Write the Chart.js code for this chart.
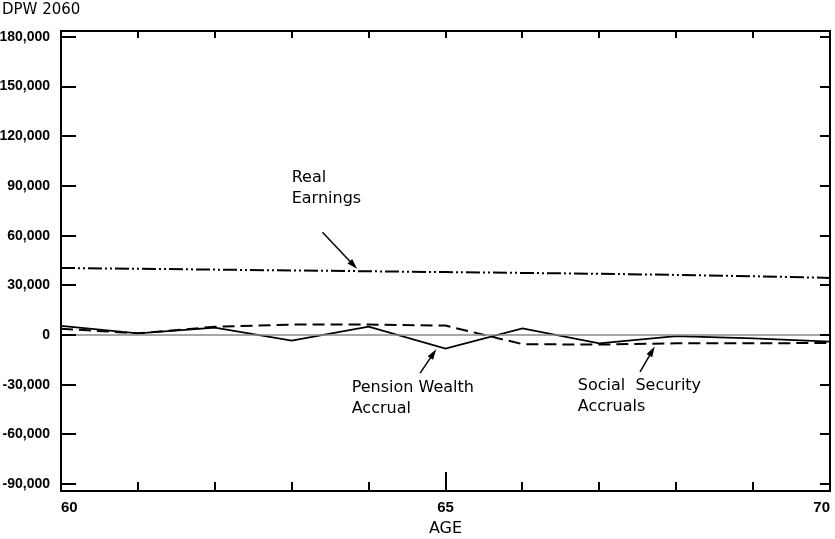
<!DOCTYPE html>
<html lang="en">
<head>
  <meta charset="UTF-8" />
  <title>DPW 2060</title>
  <script src="https://cdn.jsdelivr.net/npm/chart.js"></script>
  <style>
    html, body { margin: 0; padding: 0; background: #fff; }
    #wrap { position: relative; width: 835px; height: 539px; }
  </style>
</head>
<body>
  <div id="wrap"><canvas id="chart"></canvas></div>

  <script>
    // ages on the x axis
    const ages = [60, 61, 62, 63, 64, 65, 66, 67, 68, 69, 70];
    // series (dollars)
    const realEarnings = [40500, 40000, 39500, 39000, 38500, 38000, 37500, 37000, 36300, 35500, 34500];
    const pensionAccrual = [5500, 1000, 4500, -3400, 5000, -8200, 4000, -5000, -700, -2000, -4000];
    const ssAccruals = [3800, 1000, 5000, 6300, 6300, 5700, -5500, -5800, -5000, -5000, -4800];
    const zeroLine = [0, 0, 0, 0, 0, 0, 0, 0, 0, 0, 0];
    const yTicks = [-90000, -60000, -30000, 0, 30000, 60000, 90000, 120000, 150000, 180000];
    const xLabels = [60, 65, 70];

    const TICKFONT = "'Liberation Sans', Arial, sans-serif";
    const TEXTFONT = "'DejaVu Sans', 'Liberation Sans', sans-serif";

    const pts = arr => arr.map((v, i) => ({ x: ages[i], y: v }));

    // labels + arrows, positioned in data units
    const notes = [
      { lines: ['Real', 'Earnings'], at: [63.0, 95000], from: [63.4, 62000], to: [63.85, 40000] },
      { lines: ['Pension Wealth', 'Accrual'], at: [63.78, -32000], from: [64.67, -23000], to: [64.88, -8600] },
      { lines: ['Social  Security', 'Accruals'], at: [66.72, -30800], from: [67.53, -22300], to: [67.72, -7000] }
    ];

    const framePlugin = {
      id: 'frame',
      afterDatasetsDraw(chart) {
        const { ctx, chartArea: a, scales: { x, y } } = chart;
        ctx.save();
        ctx.strokeStyle = '#000';
        ctx.lineWidth = 2;
        ctx.strokeRect(a.left, a.top, a.right - a.left, a.bottom - a.top);

        ctx.beginPath();
        yTicks.forEach(v => {
          const py = Math.round(y.getPixelForValue(v));
          ctx.moveTo(a.left, py); ctx.lineTo(a.left + 15, py);
          ctx.moveTo(a.right, py); ctx.lineTo(a.right - 10, py);
        });
        ages.forEach(v => {
          const px = Math.round(x.getPixelForValue(v));
          const up = v === 65 ? 19 : 9;
          ctx.moveTo(px, a.bottom); ctx.lineTo(px, a.bottom - up);
          ctx.moveTo(px, a.top); ctx.lineTo(px, a.top + 7);
        });
        ctx.stroke();

        // annotations
        ctx.fillStyle = '#000';
        ctx.font = '16px ' + TEXTFONT;
        ctx.textAlign = 'left';
        ctx.textBaseline = 'middle';
        notes.forEach(n => {
          const tx = x.getPixelForValue(n.at[0]);
          const ty = y.getPixelForValue(n.at[1]);
          n.lines.forEach((t, i) => ctx.fillText(t, tx, ty + i * 21));

          const x0 = x.getPixelForValue(n.from[0]), y0 = y.getPixelForValue(n.from[1]);
          const x1 = x.getPixelForValue(n.to[0]), y1 = y.getPixelForValue(n.to[1]);
          const ang = Math.atan2(y1 - y0, x1 - x0);
          ctx.lineWidth = 1.5;
          ctx.beginPath();
          ctx.moveTo(x0, y0);
          ctx.lineTo(x1 - 8 * Math.cos(ang), y1 - 8 * Math.sin(ang));
          ctx.stroke();
          ctx.beginPath();
          ctx.moveTo(x1, y1);
          ctx.lineTo(x1 - 11 * Math.cos(ang - 0.3), y1 - 11 * Math.sin(ang - 0.3));
          ctx.lineTo(x1 - 11 * Math.cos(ang + 0.3), y1 - 11 * Math.sin(ang + 0.3));
          ctx.closePath();
          ctx.fill();
        });

        // figure caption top-left
        ctx.font = '15px ' + TEXTFONT;
        ctx.fillText('DPW 2060', 2, 10);
        ctx.restore();
      }
    };

    new Chart(document.getElementById('chart'), {
      type: 'line',
      data: {
        datasets: [
          { label: 'zero', data: pts(zeroLine), borderColor: '#8a8a8a', borderWidth: 1.5 },
          { label: 'Real Earnings', data: pts(realEarnings), borderColor: '#000', borderWidth: 2, borderDash: [14, 3, 2, 3, 2, 3] },
          { label: 'Social Security Accruals', data: pts(ssAccruals), borderColor: '#000', borderWidth: 2, borderDash: [12, 6] },
          { label: 'Pension Wealth Accrual', data: pts(pensionAccrual), borderColor: '#000', borderWidth: 1.8 }
        ]
      },
      options: {
        responsive: true,
        maintainAspectRatio: false,
        animation: false,
        layout: { padding: { top: 31, right: 5, left: 0, bottom: 0 } },
        elements: { point: { radius: 0 }, line: { tension: 0 } },
        plugins: { legend: { display: false }, tooltip: { enabled: false } },
        scales: {
          x: {
            type: 'linear',
            min: 60,
            max: 70,
            grid: { display: false },
            border: { display: false },
            afterBuildTicks: s => { s.ticks = xLabels.map(v => ({ value: v })); },
            afterFit: s => { s.height = 48; s.paddingLeft = 0; s.paddingRight = 0; },
            ticks: {
              color: '#000',
              font: { family: TICKFONT, size: 15, weight: 'bold' },
              padding: 0,
              align: 'inner',
              maxRotation: 0,
              autoSkip: false,
              callback: v => String(v)
            },
            title: {
              display: true,
              text: 'AGE',
              color: '#000',
              font: { family: TEXTFONT, size: 16 },
              padding: { top: 0, bottom: 1 }
            }
          },
          y: {
            min: -94200,
            max: 183600,
            grid: { display: false },
            border: { display: false },
            afterBuildTicks: s => { s.ticks = yTicks.map(v => ({ value: v })); },
            afterFit: s => { s.width = 61; s.paddingTop = 0; s.paddingBottom = 0; },
            ticks: {
              color: '#000',
              font: { family: TICKFONT, size: 14, weight: 'bold' },
              padding: 3,
              autoSkip: false,
              callback: v => v.toLocaleString('en-US')
            }
          }
        }
      },
      plugins: [framePlugin]
    });
  </script>
</body>
</html>
